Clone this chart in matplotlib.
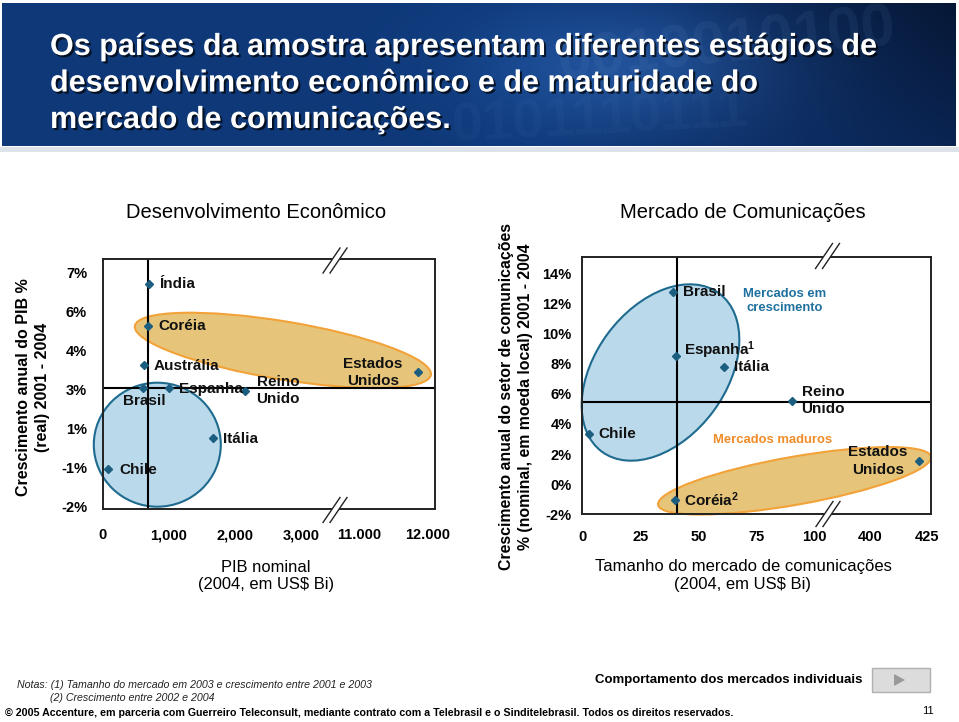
import numpy as np
import matplotlib
matplotlib.use("Agg")
import matplotlib.pyplot as plt
from matplotlib.patches import Ellipse, Rectangle, Polygon
from matplotlib.transforms import Affine2D
from matplotlib.lines import Line2D
import matplotlib.patheffects as pe

plt.rcParams['font.family'] = 'Liberation Sans'
plt.rcParams['mathtext.default'] = 'regular'

W, H = 959, 722

# ---- data: left chart (Desenvolvimento Econômico) ----
pib_countries = ['Índia', 'Coréia', 'Austrália', 'Brasil', 'Espanha',
                 'Reino\nUnido', 'Itália', 'Chile', 'Estados\nUnidos']
pib_nominal = [700, 685, 620, 610, 1000, 2150, 1660, 80, 11860]      # US$ Bi
pib_growth = [6.7, 5.27, 3.64, 3.04, 3.05, 2.94, 0.54, -1.03, 3.44]  # %
pib_xticks = [0, 1000, 2000, 3000, 11000, 12000]
pib_xticklabels = ['0', '1,000', '2,000', '3,000', '11.000', '12.000']
pib_yticks = [-2, -1, 1, 3, 4, 6, 7]
pib_yticklabels = ['-2%', '-1%', '1%', '3%', '4%', '6%', '7%']
pib_ref = (685, 3.05)

# ---- data: right chart (Mercado de Comunicações) ----
com_countries = ['Brasil', 'Espanha$^1$', 'Itália', 'Reino\nUnido', 'Chile',
                 'Estados\nUnidos', 'Coréia$^2$']
com_size = [39.0, 40.3, 61.2, 90.3, 2.8, 421.2, 40.0]
com_growth = [12.75, 8.53, 7.74, 5.53, 3.3, 1.53, -1.05]
com_xticks = [0, 25, 50, 75, 100, 400, 425]
com_yticks = [-2, 0, 2, 4, 6, 8, 10, 12, 14]
com_ref = (41.0, 5.46)

title_lines = ['Os países da amostra apresentam diferentes estágios de',
               'desenvolvimento econômico e de maturidade do',
               'mercado de comunicações.']

# label offsets in pixels (dx, dy, ha)
pib_lbl = [(10, 0, 'left'), (10, 0, 'left'), (10, -1, 'left'), (1, -13, 'center'),
           (10, -1, 'left'), (33, 0, 'center'), (10, -1, 'left'), (11, -1, 'left'),
           (-45, 0, 'center')]
com_lbl = [(10, 0, 'left'), (8, 5, 'left'), (10, 0, 'left'), (31, 0, 'center'),
           (10, 0, 'left'), (-41, 0, 'center'), (9, 0, 'left')]

MARK = '#1b5e80'
BLUE_FC, BLUE_EC = '#bad9ea', '#1f6b8f'
ORNG_FC, ORNG_EC = '#e6c57a', '#f2a238'


def piecewise(vals, pos):
    vals = np.asarray(vals, float)
    pos = np.asarray(pos, float)

    def _map(v, a, b):
        v = np.asarray(v, float)
        out = np.interp(v, a, b)
        s0 = (b[1] - b[0]) / (a[1] - a[0])
        s1 = (b[-1] - b[-2]) / (a[-1] - a[-2])
        out = np.where(v < a[0], b[0] + (v - a[0]) * s0, out)
        out = np.where(v > a[-1], b[-1] + (v - a[-1]) * s1, out)
        return out
    return (lambda v: _map(v, vals, pos)), (lambda p: _map(p, pos, vals))


fig = plt.figure(figsize=(W / 100, H / 100), dpi=100)
pix = Affine2D().scale(1 / W, 1 / H) + fig.transFigure


def add_axes_px(x0, y0, x1, y1):
    return fig.add_axes([x0 / W, 1 - y1 / H, (x1 - x0) / W, (y1 - y0) / H])


# ---- header banner ----
axb = add_axes_px(2, 3, 956, 146)
gx = np.linspace(0, 1, 480)[None, :]
gy = np.linspace(0, 1, 120)[:, None]
left = np.array([14, 56, 120]) / 255
right = np.array([10, 36, 82]) / 255
t = np.clip((gx - 0.55) / 0.45, 0, 1)[..., None]
img = left * (1 - t) + right * t
bump = np.exp(-((gx - 0.66) / 0.16) ** 2 - ((gy - 0.45) / 0.45) ** 2)[..., None]
img = img + bump * np.array([20, 30, 42]) / 255
dark = (np.clip((gx - 0.7) / 0.3, 0, 1) * (1 - gy) * 0.35)[..., None]
img = np.clip(img * (1 - dark), 0, 1)
axb.imshow(img, aspect='auto', extent=[0, 1, 0, 1])
axb.text(0.58, 1.02, '0010010100', transform=axb.transAxes, fontsize=44,
         weight='bold', color='#6f96c6', alpha=0.10, va='top', rotation=6)
axb.text(0.47, 0.42, '0101110111', transform=axb.transAxes, fontsize=40,
         weight='bold', color='#6f96c6', alpha=0.06, va='top', rotation=3)
axb.set_axis_off()
fig.add_artist(Rectangle((0, H - 152), W, 5, transform=pix, facecolor='#dde3e8',
                         edgecolor='none'))

shadow = [pe.SimplePatchShadow(offset=(1.5, -1.5), shadow_rgbFace='black', alpha=0.7),
          pe.Normal()]
for i, line in enumerate(title_lines):
    fig.text(50 / W, 1 - (55 + 36.5 * i) / H, line, color='white', fontsize=22,
             weight='bold', va='baseline', ha='left', path_effects=shadow)


def ellipse(ax, cx, cy, w, h, angle, fc, ec):
    ax.add_patch(Ellipse((cx, H - cy), w, h, angle=angle, transform=pix,
                         facecolor=fc, edgecolor=ec, lw=1.5, zorder=1, clip_on=False))


def break_mark(cx, cy):
    pts = []
    for off in (-3.5, 3.5):
        x0, y0 = cx + off - 8.5, H - (cy + 12.5)
        x1, y1 = cx + off + 8.5, H - (cy - 12.5)
        pts.append(((x0, y0), (x1, y1)))
    yc = H - cy
    k = 17 / 25
    fig.add_artist(Polygon([(cx - 3.5 - 3 * k, yc - 3), (cx + 3.5 - 3 * k, yc - 3),
                            (cx + 3.5 + 3 * k, yc + 3), (cx - 3.5 + 3 * k, yc + 3)],
                           closed=True, transform=pix, facecolor='white',
                           edgecolor='none', zorder=5))
    for p0, p1 in pts:
        fig.add_artist(Line2D([p0[0], p1[0]], [p0[1], p1[1]], transform=pix,
                              color='#222222', lw=1.0, zorder=6))


def style(ax, xpad, ypad):
    for s in ax.spines.values():
        s.set_linewidth(1.4)
        s.set_color('#222222')
    ax.tick_params(length=0, labelsize=10.5)
    ax.tick_params(axis='x', pad=xpad)
    ax.tick_params(axis='y', pad=ypad)
    for lab in ax.get_xticklabels() + ax.get_yticklabels():
        lab.set_fontweight('bold')


# ---- left chart ----
ax1 = add_axes_px(102.7, 259.3, 435, 509.3)
ax1.set_xscale('function', functions=piecewise(pib_xticks, [0, 1, 2, 3, 3.875, 4.9]))
ax1.set_yscale('function', functions=piecewise(pib_yticks, [0, 1, 2, 3, 4, 5, 6]))
ax1.set_xlim(0, 12110)
ax1.set_ylim(-2.06, 7.33)
ax1.set_xticks(pib_xticks, pib_xticklabels)
ax1.set_yticks(pib_yticks, pib_yticklabels)
ax1.axvline(pib_ref[0], color='black', lw=1.5, zorder=2)
ax1.axhline(pib_ref[1], color='black', lw=1.5, zorder=2)
ax1.plot(pib_nominal, pib_growth, 'D', color=MARK, ms=4.5, zorder=3, clip_on=False)
for name, x, y, (dx, dy, ha) in zip(pib_countries, pib_nominal, pib_growth, pib_lbl):
    ax1.annotate(name, (x, y), xytext=(dx, dy), textcoords='offset pixels',
                 ha=ha, va='center', fontsize=11, weight='bold', color='#111111',
                 linespacing=1.3, zorder=4, annotation_clip=False)
style(ax1, 13.7, 11.3)
ellipse(ax1, 157.3, 444.7, 127, 124, 0, BLUE_FC, BLUE_EC)
ellipse(ax1, 282.9, 350.4, 300, 58, -9.4, ORNG_FC, ORNG_EC)
break_mark(335, 260.5)
break_mark(335, 510)

fig.text(256.5 / W, 1 - 212 / H, 'Desenvolvimento Econômico', ha='center',
         va='center', fontsize=14.5)
fig.text(266 / W, 1 - 576 / H, 'PIB nominal\n(2004, em US$ Bi)', ha='center',
         va='center', fontsize=11.9, linespacing=1.25)
fig.text(33 / W, 1 - 387 / H, 'Crescimento anual do PIB %\n(real) 2001 - 2004',
         ha='center', va='center', rotation=90, fontsize=11.5, weight='bold',
         linespacing=1.35)

# ---- right chart ----
ax2 = add_axes_px(582.3, 257.3, 930.7, 514.3)
ax2.set_xscale('function', functions=piecewise(com_xticks,
                                               [0, 25, 50, 75, 100, 124.1, 148.6]))
ax2.set_xlim(0, 426.5)
ax2.set_ylim(-2, 15.05)
ax2.set_xticks(com_xticks, [str(v) for v in com_xticks])
ax2.set_yticks(com_yticks, [f'{v}%' for v in com_yticks])
ax2.axvline(com_ref[0], color='black', lw=1.5, zorder=2)
ax2.axhline(com_ref[1], color='black', lw=1.5, zorder=2)
ax2.plot(com_size, com_growth, 'D', color=MARK, ms=4.5, zorder=3, clip_on=False)
for name, x, y, (dx, dy, ha) in zip(com_countries, com_size, com_growth, com_lbl):
    ax2.annotate(name, (x, y), xytext=(dx, dy), textcoords='offset pixels',
                 ha=ha, va='center', fontsize=11, weight='bold', color='#111111',
                 linespacing=1.3, zorder=4, annotation_clip=False)
style(ax2, 11.3, 7.6)
ellipse(ax2, 660.5, 372.5, 197, 131, 53.4, BLUE_FC, BLUE_EC)
ellipse(ax2, 794.5, 480.8, 277, 48, 10, ORNG_FC, ORNG_EC)
break_mark(827.5, 256)
break_mark(828, 514)

fig.text(784.3 / W, 1 - 301 / H, 'Mercados em\ncrescimento', ha='center',
         va='center', fontsize=9.4, weight='bold', color='#1e70a0', linespacing=1.2)
fig.text(772.5 / W, 1 - 440.3 / H, 'Mercados maduros', ha='center', va='center',
         fontsize=9.4, weight='bold', color='#f08c28')

fig.text(742.5 / W, 1 - 212 / H, 'Mercado de Comunicações', ha='center',
         va='center', fontsize=14.5)
fig.text(743 / W, 1 - 576 / H, 'Tamanho do mercado de comunicações\n(2004, em US$ Bi)',
         ha='center', va='center', fontsize=12, linespacing=1.25)
fig.text(516 / W, 1 - 397 / H,
         'Crescimento anual do setor de comunicações\n% (nominal, em moeda local) 2001 - 2004',
         ha='center', va='center', rotation=90, fontsize=11.4, weight='bold',
         linespacing=1.32)

# ---- footer ----
fig.text(17 / W, 1 - 685 / H,
         'Notas: (1) Tamanho do mercado em 2003 e crescimento entre 2001 e 2003',
         fontsize=7.7, style='italic', va='center', color='#222222')
fig.text(50 / W, 1 - 698 / H, '(2) Crescimento entre 2002 e 2004',
         fontsize=7.7, style='italic', va='center', color='#222222')
fig.text(595 / W, 1 - 680 / H, 'Comportamento dos mercados individuais',
         fontsize=9.5, weight='bold', va='center')
fig.add_artist(Rectangle((872, H - 692), 58, 24, transform=pix, facecolor='#dcdcdc',
                         edgecolor='#b0b0b0', lw=1))
fig.add_artist(Polygon([(894, H - 686), (894, H - 674), (905, H - 680)], closed=True,
                       transform=pix, facecolor='#9a9a9a', edgecolor='none', zorder=3))
fig.text(5 / W, 1 - 713 / H,
         '© 2005 Accenture, em parceria com Guerreiro Teleconsult, mediante contrato com '
         'a Telebrasil e o Sinditelebrasil. Todos os direitos reservados.',
         fontsize=7.7, weight='bold', va='center')
fig.text(928 / W, 1 - 711 / H, '11', fontsize=8, ha='center', va='center')

fig.savefig('out.png', dpi=100)
